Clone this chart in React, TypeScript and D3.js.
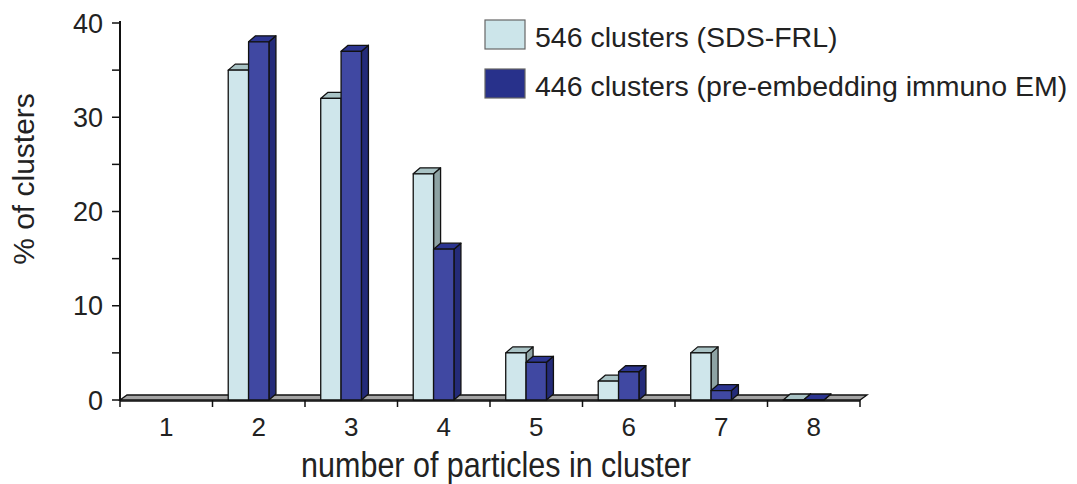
import React from "react";
import * as d3 from "d3";

// Cluster-size distribution for two labelling methods
const categories: string[] = ["1", "2", "3", "4", "5", "6", "7", "8"];
const seriesNames: string[] = [
  "546 clusters (SDS-FRL)",
  "446 clusters (pre-embedding immuno EM)",
];
const sdsFrl: (number | null)[] = [null, 35, 32, 24, 5, 2, 5, 0];
const immunoEm: (number | null)[] = [null, 38, 37, 16, 4, 3, 1, 0];
const yMajorTicks: number[] = [0, 10, 20, 30, 40];
const yMinorTicks: number[] = [5, 15, 25, 35];

const W = 1077;
const H = 484;
const FONT = "'Liberation Sans', Arial, Helvetica, sans-serif";

// 3D depth of the columns and floor
const DX = 7;
const DY = 6;

const palettes = [
  { front: "#cfe6eb", top: "#a9c3c5", side: "#8ea3a4", legend: "#cce5ea" },
  { front: "#4048a2", top: "#2c3591", side: "#242b79", legend: "#28318b" },
];

export default function App() {
  const left = 120;
  const right = 860;
  const x = d3.scaleBand<string>().domain(categories).range([left, right]).padding(0);
  const bw = x.bandwidth();
  const inner = d3
    .scaleBand<number>()
    .domain([0, 1])
    .range([bw * 0.17, bw * 0.61])
    .padding(0);
  const y = d3.scaleLinear().domain([0, 40]).range([400, 23]);
  const y0 = y(0);

  const series = [sdsFrl, immunoEm];

  const bars: React.ReactNode[] = [];
  categories.forEach((c, i) => {
    series.forEach((vals, s) => {
      const v = vals[i];
      if (v === null || v === undefined) return;
      const p = palettes[s];
      const bx = (x(c) as number) + (inner(s) as number);
      const w = inner.bandwidth();
      const top = y(v);
      const front = `M${bx},${y0}L${bx},${top}L${bx + w},${top}L${bx + w},${y0}Z`;
      const topFace = `M${bx},${top}L${bx + DX},${top - DY}L${bx + w + DX},${top - DY}L${bx + w},${top}Z`;
      const side = `M${bx + w},${top}L${bx + w + DX},${top - DY}L${bx + w + DX},${y0 - DY}L${bx + w},${y0}Z`;
      bars.push(
        <g key={`${c}-${s}`} stroke="#111" strokeWidth={1.3} strokeLinejoin="round">
          <path d={side} fill={p.side} />
          <path d={topFace} fill={p.top} />
          <path d={front} fill={p.front} />
        </g>
      );
    });
  });

  const floor = `M${left},${y0}L${left + DX},${y0 - DY + 1}L${right + DX},${y0 - DY + 1}L${right},${y0}Z`;

  const xTicks = [...categories.map((c) => x(c) as number), right];

  return (
    <svg width={W} height={H} style={{ position: "absolute", left: 0, top: 0, background: "#fff" }}>
      {/* floor */}
      <path d={floor} fill="#a4a4a4" stroke="#111" strokeWidth={1.3} />
      <line x1={left} x2={right} y1={y0 + 1} y2={y0 + 1} stroke="#111" strokeWidth={1.5} />

      {bars}

      {/* y axis */}
      <line x1={left} x2={left} y1={y(40) - 2} y2={y0 + 1} stroke="#111" strokeWidth={2} />
      {[...yMajorTicks, ...yMinorTicks].map((t) => (
        <line key={`yt${t}`} x1={left - 8} x2={left} y1={y(t)} y2={y(t)} stroke="#111" strokeWidth={1.5} />
      ))}
      {yMajorTicks.map((t) => (
        <text
          key={`yl${t}`}
          x={103}
          y={y(t)}
          dy="0.36em"
          textAnchor="end"
          fontFamily={FONT}
          fontSize={27}
          fill="#222"
        >
          {t}
        </text>
      ))}

      {/* x axis ticks and labels */}
      {xTicks.map((t, i) => (
        <line key={`xt${i}`} x1={t} x2={t} y1={y0} y2={y0 + 7} stroke="#111" strokeWidth={1.5} />
      ))}
      {categories.map((c) => (
        <text
          key={`xl${c}`}
          x={(x(c) as number) + bw / 2}
          y={436}
          textAnchor="middle"
          fontFamily={FONT}
          fontSize={26}
          fill="#222"
        >
          {c}
        </text>
      ))}

      {/* axis titles */}
      <text
        transform="translate(496,477) scale(1,1.12)"
        textAnchor="middle"
        fontFamily={FONT}
        fontSize={30.5}
        fill="#222"
      >
        number of particles in cluster
      </text>
      <text
        transform={`translate(34,179) rotate(-90)`}
        textAnchor="middle"
        fontFamily={FONT}
        fontSize={30}
        fill="#222"
      >
        % of clusters
      </text>

      {/* legend */}
      {seriesNames.map((name, i) => (
        <g key={`lg${i}`} transform={`translate(485,${20 + i * 49})`}>
          <rect x={0} y={0} width={40} height={29} fill={palettes[i].legend} stroke="#666" strokeWidth={1.2} />
          <text x={50} y={27} fontFamily={FONT} fontSize={28.5} fill="#222">
            {name}
          </text>
        </g>
      ))}
    </svg>
  );
}
